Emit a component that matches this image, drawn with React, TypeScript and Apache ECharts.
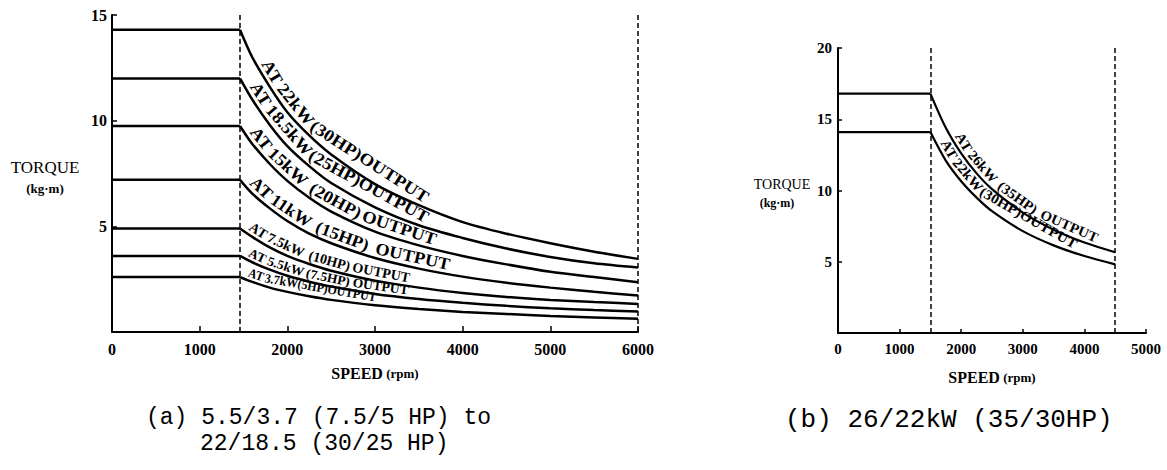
import React, { useEffect, useRef } from "react";
import * as echarts from "echarts";

// ---------- data ----------
const leftSpeeds = [0, 1460, 1600, 1800, 2000, 2250, 2500, 3000, 3500, 4000, 4500, 5000, 5500, 6000];
const t22 = [14.3, 14.3, 13.0, 11.6, 10.4, 9.3, 8.4, 7.0, 6.0, 5.2, 4.65, 4.2, 3.8, 3.46];
const t185 = [12.0, 12.0, 11.0, 9.8, 8.8, 7.85, 7.05, 5.9, 5.05, 4.45, 3.95, 3.55, 3.25, 3.05];
const t15 = [9.75, 9.75, 8.9, 7.95, 7.15, 6.35, 5.7, 4.75, 4.1, 3.6, 3.2, 2.85, 2.6, 2.35];
const t11 = [7.2, 7.2, 6.55, 5.85, 5.25, 4.65, 4.2, 3.5, 3.0, 2.62, 2.33, 2.1, 1.9, 1.73];
const t75 = [4.9, 4.9, 4.5, 4.0, 3.6, 3.22, 2.9, 2.43, 2.1, 1.85, 1.66, 1.52, 1.42, 1.33];
const t55 = [3.6, 3.6, 3.3, 2.95, 2.66, 2.38, 2.15, 1.8, 1.56, 1.38, 1.24, 1.12, 1.04, 0.97];
const t37 = [2.6, 2.6, 2.37, 2.1, 1.9, 1.69, 1.52, 1.27, 1.09, 0.95, 0.85, 0.76, 0.69, 0.63];
const leftDashed = [1460, 6000];

const rightSpeeds = [0, 1500, 1750, 2000, 2250, 2500, 3000, 3500, 4000, 4500];
const t26 = [16.8, 16.8, 14.4, 12.6, 11.2, 10.1, 8.45, 7.25, 6.35, 5.67];
const t22b = [14.1, 14.1, 12.1, 10.65, 9.5, 8.55, 7.15, 6.15, 5.4, 4.82];
const rightDashed = [1500, 4500];

// curve captions: text, curve, start/end speed of the caption along the curve, font size
const leftCurveLabels = [
  { text: "AT 22kW (30HP)OUTPUT", data: t22, from: 1660, to: 3530, size: 17 },
  { text: "AT 18.5kW (25HP)OUTPUT", data: t185, from: 1530, to: 3540, size: 17 },
  { text: "AT 15kW  (20HP) OUTPUT", data: t15, from: 1530, to: 3660, size: 17 },
  { text: "AT 11kW  (15HP)  OUTPUT", data: t11, from: 1530, to: 3830, size: 17 },
  { text: "AT 7.5kW  (10HP) OUTPUT", data: t75, from: 1530, to: 3380, size: 14 },
  { text: "AT 5.5kW (7.5HP) OUTPUT", data: t55, from: 1530, to: 3370, size: 13 },
  { text: "AT 3.7kW(5HP)OUTPUT", data: t37, from: 1530, to: 3000, size: 13 },
];
const rightCurveLabels = [
  { text: "AT 26kW  (35HP)  OUTPUT", data: t26, from: 1850, to: 4160, size: 14 },
  { text: "AT 22kW (30HP)OUTPUT", data: t22b, from: 1610, to: 3790, size: 14 },
];

const SERIF = "'Liberation Serif', 'DejaVu Serif', serif";
const MONO = "'Liberation Mono', 'DejaVu Sans Mono', monospace";

function zip(xs: number[], ys: number[]) {
  return xs.map((x, i) => [x, ys[i]]);
}
function interp(xs: number[], ys: number[], x: number) {
  for (let i = 1; i < xs.length; i++) {
    if (x <= xs[i]) {
      const t = (x - xs[i - 1]) / (xs[i] - xs[i - 1]);
      return ys[i - 1] + t * (ys[i] - ys[i - 1]);
    }
  }
  return ys[ys.length - 1];
}

export default function App() {
  const ref = useRef<HTMLDivElement>(null);
  useEffect(() => {
    if (!ref.current) return;
    const chart = echarts.init(ref.current, undefined, { renderer: "svg" });

    const axisLabel = { color: "#000", fontFamily: SERIF, fontWeight: "bold" as const, fontSize: 16 };
    const lineStyle = (w: number) => ({ color: "#000", width: w });

    const curvePair = (name: string, xs: number[], ys: number[], idx: number, w: number, extra: any = {}) => {
      const pts = zip(xs, ys);
      return [
        {
          name: name + " flat",
          type: "line",
          xAxisIndex: idx,
          yAxisIndex: idx,
          data: pts.slice(0, 2),
          symbol: "none",
          lineStyle: { color: "#000", width: w },
          silent: true,
          ...extra,
        },
        {
          name,
          type: "line",
          xAxisIndex: idx,
          yAxisIndex: idx,
          data: pts.slice(1),
          smooth: 0.3,
          symbol: "none",
          lineStyle: { color: "#000", width: w },
          silent: true,
        },
      ];
    };

    const markLine = (vals: number[]) => ({
      markLine: {
        silent: true,
        symbol: "none",
        label: { show: false },
        lineStyle: { color: "#000", type: [5, 3], width: 1.5 },
        data: vals.map((v) => ({ xAxis: v })),
      },
    });

    const nameRich = {
      a: { fontFamily: SERIF, fontWeight: "bold", fontSize: 16, color: "#000" },
      b: { fontFamily: SERIF, fontWeight: "bold", fontSize: 13, color: "#000" },
    };

    const option: any = {
      animation: false,
      grid: [
        { left: 112, top: 15, width: 526, height: 317 },
        { left: 838, top: 48, width: 308, height: 285 },
      ],
      xAxis: [
        {
          gridIndex: 0,
          type: "value",
          min: 0,
          max: 6000,
          interval: 1000,
          axisLine: { lineStyle: lineStyle(2) },
          axisTick: { inside: true, length: 6, lineStyle: lineStyle(1.5) },
          axisLabel: { ...axisLabel, margin: 9, formatter: (v: number) => String(v) },
          splitLine: { show: false },
          name: "{a|SPEED} {b|(rpm)}",
          nameLocation: "middle",
          nameGap: 33,
          nameTextStyle: { rich: nameRich },
        },
        {
          gridIndex: 1,
          type: "value",
          min: 0,
          max: 5000,
          interval: 1000,
          axisLine: { lineStyle: lineStyle(2) },
          axisTick: { inside: true, length: 4, lineStyle: lineStyle(1.5) },
          axisLabel: { ...axisLabel, fontSize: 15, margin: 8, formatter: (v: number) => String(v) },
          splitLine: { show: false },
          name: "{a|SPEED} {b|(rpm)}",
          nameLocation: "middle",
          nameGap: 36,
          nameTextStyle: { rich: nameRich },
        },
      ],
      yAxis: [
        {
          gridIndex: 0,
          type: "value",
          min: 0,
          max: 15,
          interval: 5,
          axisLine: { show: true, lineStyle: lineStyle(2) },
          axisTick: { show: true, inside: true, length: 5, lineStyle: lineStyle(1.5) },
          axisLabel: { ...axisLabel, margin: 5, formatter: (v: number) => (v === 0 ? "" : String(v)) },
          splitLine: { show: false },
        },
        {
          gridIndex: 1,
          type: "value",
          min: 0,
          max: 20,
          interval: 5,
          axisLine: { show: true, lineStyle: lineStyle(2) },
          axisTick: { show: true, inside: true, length: 4, lineStyle: lineStyle(1.5) },
          axisLabel: { ...axisLabel, fontSize: 15, margin: 6, formatter: (v: number) => (v === 0 ? "" : String(v)) },
          splitLine: { show: false },
        },
      ],
      series: [
        ...curvePair("22kW", leftSpeeds, t22, 0, 2.5, markLine(leftDashed)),
        ...curvePair("18.5kW", leftSpeeds, t185, 0, 2.5),
        ...curvePair("15kW", leftSpeeds, t15, 0, 2.5),
        ...curvePair("11kW", leftSpeeds, t11, 0, 2.5),
        ...curvePair("7.5kW", leftSpeeds, t75, 0, 2.5),
        ...curvePair("5.5kW", leftSpeeds, t55, 0, 2.5),
        ...curvePair("3.7kW", leftSpeeds, t37, 0, 2.5),
        ...curvePair("26kW", rightSpeeds, t26, 1, 2.2, markLine(rightDashed)),
        ...curvePair("22kW b", rightSpeeds, t22b, 1, 2.2),
      ],
    };
    chart.setOption(option);

    const ctx = document.createElement("canvas").getContext("2d") as CanvasRenderingContext2D;
    const measure = (t: string, font: string) => {
      ctx.font = font;
      return ctx.measureText(t).width;
    };

    // caption following its curve, word by word
    const makeLabel = (idx: number, xs: number[], lbl: any) => {
      const toPx = (s: number) =>
        chart.convertToPixel({ xAxisIndex: idx, yAxisIndex: idx } as any, [s, interp(xs, lbl.data, s)]) as number[];
      const pts: number[][] = [];
      const xMax = xs[xs.length - 1];
      for (let s = lbl.from; s <= xMax; s += 10) pts.push(toPx(s));
      const cum = [0];
      for (let i = 1; i < pts.length; i++) {
        cum.push(cum[i - 1] + Math.hypot(pts[i][0] - pts[i - 1][0], pts[i][1] - pts[i - 1][1]));
      }
      const at = (d: number) => {
        for (let i = 1; i < pts.length; i++) {
          if (d <= cum[i]) {
            const t = (d - cum[i - 1]) / (cum[i] - cum[i - 1] || 1);
            return [pts[i - 1][0] + t * (pts[i][0] - pts[i - 1][0]), pts[i - 1][1] + t * (pts[i][1] - pts[i - 1][1])];
          }
        }
        return pts[pts.length - 1];
      };
      const endIdx = Math.min(pts.length - 1, Math.round((lbl.to - lbl.from) / 10));
      const target = cum[endIdx];
      const font = `bold ${lbl.size}px ${SERIF}`;
      const natural = measure(lbl.text, font);
      const sx = Math.max(0.6, Math.min(1.2, target / natural));
      const words = lbl.text.split(" ");
      const spaceW = measure(" ", font) * sx;
      const gap = 1.2;
      const out: any[] = [];
      let d = 0;
      for (const w of words) {
        if (w === "") {
          d += spaceW;
          continue;
        }
        const ww = measure(w, font) * sx;
        const p0 = at(d);
        const p1 = at(d + ww);
        const ang = Math.atan2(p1[1] - p0[1], p1[0] - p0[0]);
        out.push({
          type: "text",
          x: p0[0] + Math.sin(ang) * gap,
          y: p0[1] - Math.cos(ang) * gap,
          rotation: -ang,
          scaleX: sx,
          silent: true,
          style: {
            text: w,
            font,
            fill: "#000",
            textAlign: "left",
            textVerticalAlign: "bottom",
            verticalAlign: "bottom",
          },
        });
        d += ww + spaceW;
      }
      return out;
    };

    const txt = (text: string, x: number, y: number, font: string, align = "center") => ({
      type: "text",
      x,
      y,
      silent: true,
      style: { text, font, fill: "#000", textAlign: align, textVerticalAlign: "middle", verticalAlign: "middle" },
    });

    const graphics: any[] = [
      ...leftCurveLabels.flatMap((l) => makeLabel(0, leftSpeeds, l)),
      ...rightCurveLabels.flatMap((l) => makeLabel(1, rightSpeeds, l)),
      txt("TORQUE", 45, 167, `17px ${SERIF}`),
      txt("(kg·m)", 45, 188, `bold 13px ${SERIF}`),
      txt("TORQUE", 782, 184, `14px ${SERIF}`),
      txt("(kg·m)", 777, 203, `bold 12px ${SERIF}`),
      txt("(a) 5.5/3.7 (7.5/5 HP) to", 146, 418, `23px ${MONO}`, "left"),
      txt("22/18.5 (30/25 HP)", 200, 444, `23px ${MONO}`, "left"),
      txt("(b) 26/22kW (35/30HP)", 785, 420, `26px ${MONO}`, "left"),
    ];
    chart.setOption({ graphic: graphics });

    return () => chart.dispose();
  }, []);
  return (
    <div
      ref={ref}
      style={{ position: "absolute", left: 0, top: 0, width: 1167, height: 470, background: "#fff" }}
    />
  );
}
